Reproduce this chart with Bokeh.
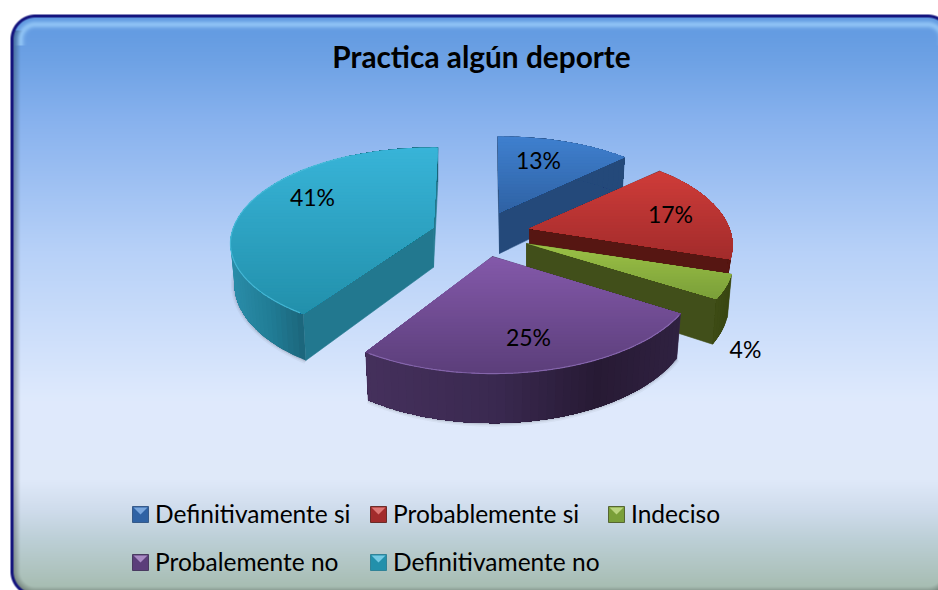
import numpy as np
from bokeh.plotting import figure
from bokeh.models import Range1d
from bokeh.core.properties import value
from bokeh.embed import file_html
from bokeh.resources import INLINE

# ---- data ----
title = "Practica algún deporte"
categories = ["Definitivamente si", "Probablemente si", "Indeciso", "Probalemente no", "Definitivamente no"]
percent = [13, 17, 4, 25, 41]

# ---- style / layout ----
W, H = 938, 590
top_hi = ["#3f80cf", "#cf3c39", "#9cc146", "#8459aa", "#38b4d8"]
top_lo = ["#2f62a4", "#a22b2b", "#7a9f39", "#5b3e7a", "#2290ab"]
radial = ["#24497a", "#561612", "#414f1a", "#3a2850", "#22788f"]
wall_x = [[490, 640], [600, 740], [690, 740], [366, 500, 600, 680], [232, 270, 308]]
wall_c = [["#24497a", "#24497a"], ["#561612", "#561612"], ["#46551c", "#36430f"],
          ["#45305c", "#3a2950", "#271a34", "#2f2140"], ["#2a8ca8", "#217d96", "#1b6479"]]
rim = [None, None, None, "#8f6fb6", "#4cbddb"]
apex = [(499, 212), (529, 228), (526, 243), (492, 256), (433, 227)]
RX, KY, PERSP, DEPTH = 200.0, 94.0, 0.173, 41.0
# per-slice perspective tweaks: width, far half, near half, depth, rotation (deg)
tweak = [(0.97, 0.95, 1.0, 1.0, -0.6), (1.0, 1.0, 1.0, 0.6, 0.0), (1.02, 1.0, 1.0, 1.0, 0.0),
         (1.01, 1.0, 1.03, 1.0, 0.0), (1.0, 1.0, 0.95, 0.97, 1.5)]
label_xy = [(538, 159), (670, 213), (745, 348), (528, 336), (312, 196)]
legend_xy = [(132, 514), (370, 514), (608, 514), (132, 562), (370, 562)]


def Y(sy):
    return 590 - np.asarray(sy, dtype=float)


def hex2rgb(h):
    return np.array([int(h[i:i + 2], 16) for i in (1, 3, 5)], dtype=float)


def rgb2hex(c):
    return "#%02x%02x%02x" % tuple(int(round(v)) for v in np.clip(c, 0, 255))


def mix(stops_x, stops_c, x):
    cs = np.array([hex2rgb(c) for c in stops_c])
    return rgb2hex([np.interp(x, stops_x, cs[:, k]) for k in range(3)])


def project(i, deg, r=1.0, bottom=False):
    ax, ay = apex[i]
    tw, tf, tn, td, rot = tweak[i]
    th = np.radians(deg + rot)
    u, v = r * np.sin(th), r * np.cos(th)
    s = 1.0 / (1.0 + PERSP * v)
    x = RX * tw * u * s
    y = -KY * v * s * (tf if v > 0 else tn)
    if bottom:
        return ax + x * 0.98, ay + y + DEPTH * td * s
    return ax + x, ay + y


def clip_below(poly, y0):
    out = []
    for i in range(len(poly)):
        a, b = poly[i], poly[(i + 1) % len(poly)]
        if a[1] >= y0:
            out.append(a)
        if (a[1] >= y0) != (b[1] >= y0):
            t = (y0 - a[1]) / (b[1] - a[1])
            out.append((a[0] + t * (b[0] - a[0]), y0))
    return out


p = figure(width=W, height=H, x_range=Range1d(0, W), y_range=Range1d(0, H),
           output_backend="svg", toolbar_location=None, min_border=0,
           background_fill_color="white", border_fill_color="white", outline_line_color=None)
p.axis.visible = False
p.grid.visible = False

# ---- chart-area background with rounded frame, bevel and gradient ----
sx = np.arange(W) + 0.5
sy = np.arange(H) + 0.5
XX, YY = np.meshgrid(sx, sy)
L, T, R_, B, RAD = 10.0, 14.0, 952.0, 596.0, 25.0
qx = np.maximum(np.maximum(L + RAD - XX, XX - (R_ - RAD)), 0)
qy = np.maximum(np.maximum(T + RAD - YY, YY - (B - RAD)), 0)
inner = np.minimum(np.minimum(XX - L, R_ - XX), np.minimum(YY - T, B - YY))
d = np.where((qx > 0) & (qy > 0), RAD - np.hypot(qx, qy), inner)
gy = [14, 60, 120, 250, 400, 480, 510, 540, 590]
gc = ["#5e98e0", "#6ea2e5", "#88b2ee", "#b7d1f8", "#dfeafd", "#dfe9f9", "#cfdcec", "#bccfd6", "#a6bcb0"]
gcs = np.array([hex2rgb(c) for c in gc])
rgb = np.stack([np.interp(YY, gy, gcs[:, k]) for k in range(3)], axis=-1)
# top highlight band
hl = np.exp(-((d - 10.0) / 3.5) ** 2) * (YY < 45)
rgb = rgb + (np.array([165, 215, 255]) - rgb) * (hl[..., None] * 0.65)
# dark inner bevel along the left side and bottom
sh = np.clip(1 - (d - 3) / 7.0, 0, 1) * (YY > 30)
rgb = rgb * (1 - 0.3 * sh[..., None])
# navy border
bd = np.clip(3.5 - d, 0, 1)[..., None]
rgb = rgb * (1 - bd) + np.array([20, 20, 125]) * bd
alpha = np.clip(d + 0.5, 0, 1)
rgb = rgb * alpha[..., None] + 255 * (1 - alpha[..., None])
img = np.zeros((H, W), dtype=np.uint32)
view = img.view(np.uint8).reshape((H, W, 4))
view[..., :3] = np.clip(rgb, 0, 255).astype(np.uint8)
view[..., 3] = 255
p.image_rgba(image=[img[::-1]], x=0, y=0, dw=W, dh=H)

# ---- pie slices ----
ends = np.cumsum(percent) / sum(percent) * 360.0
starts = np.concatenate([[0.0], ends[:-1]])
for i in [0, 1, 2, 4, 3]:
    ax, ay = apex[i]
    a0, a1 = starts[i], ends[i]
    angs = np.linspace(a0, a1, max(int((a1 - a0) / 1.0), 4) + 1)

    # soft shadow below the body
    arc_b = [project(i, a, 1.0, True) for a in angs]
    if i in (3, 4):
        for w, al in [(7, 0.05), (4, 0.08), (2, 0.1)]:
            vis = [q for q, a in zip(arc_b, angs) if 90 < a < 300]
            p.line([q[0] for q in vis], Y([q[1] for q in vis]), line_color="#333344",
                   line_width=w, line_alpha=al)

    # radial walls
    for a in (a0, a1):
        tx, ty = project(i, a)
        bx, by = project(i, a, 1.0, True)
        cb = project(i, a, 0.0, True)
        p.patch([ax, tx, bx, cb[0]], Y([ay, ty, by, cb[1]]), fill_color=radial[i],
                line_color=radial[i], line_width=0.6)

    # outer wall: painter's strips, each one reaching to the end of the arc
    xs, ys, cols = [], [], []
    for k in range(0, len(angs) - 1, 2):
        rest = angs[k:]
        tops = [project(i, a) for a in rest]
        bots = [project(i, a, 1.0, True) for a in rest[::-1]]
        xs.append([q[0] for q in tops + bots])
        ys.append(list(Y([q[1] for q in tops + bots])))
        cols.append(mix(wall_x[i], wall_c[i], tops[0][0]))
    p.patches(xs, ys, fill_color=cols, line_color=None)

    # top face: vertical gradient from stacked clips, each reaching to the bottom
    poly = [(ax, ay)] + [project(i, a) for a in angs]
    ymin = min(q[1] for q in poly)
    ymax = max(q[1] for q in poly)
    xs, ys, cols = [], [], []
    for y0 in np.arange(ymin, ymax, 3.0):
        band = clip_below(poly, y0)
        if len(band) < 3:
            continue
        xs.append([q[0] for q in band])
        ys.append(list(Y([q[1] for q in band])))
        cols.append(mix([ymin, ymax], [top_hi[i], top_lo[i]], y0 + 1.5))
    p.patches(xs, ys, fill_color=cols, line_color=None)

    # light rim along the near arc
    if rim[i]:
        vis = [project(i, a) for a in angs if a0 + 1 < a < min(a1, 330)]
        p.line([q[0] for q in vis], Y([q[1] for q in vis]), line_color=rim[i],
               line_width=1.2, line_alpha=0.8)

# ---- value labels ----
p.text([q[0] for q in label_xy], Y([q[1] for q in label_xy]), text=[f"{v}%" for v in percent],
       text_font=value("Lato"), text_font_size=value("23px"), text_color="#000000",
       text_align="center", text_baseline="middle")

# ---- title ----
p.text([481], Y([56]), text=[title], text_font=value("Lato"), text_font_size=value("29.8px"),
       text_font_style="bold", text_color="#000000", text_align="center", text_baseline="middle")

# ---- legend ----
S = 8
for i, (lx, ly) in enumerate(legend_xy):
    cx = lx + S
    p.quad(left=[lx], right=[lx + 2 * S], top=Y([ly - S]), bottom=Y([ly + S]),
           fill_color=top_lo[i], line_color=radial[i], line_width=0.8)
    p.patch([lx + 1, lx + 2 * S - 1, cx], Y([ly - S + 1, ly - S + 1, ly]),
            fill_color=mix([0, 1], [top_hi[i], "#ffffff"], 0.3), line_color=None)
    p.text([lx + 22.5], Y([ly - 1]), text=[categories[i]], text_font=value("Lato"),
           text_font_size=value("24.5px"), text_color="#000000", text_align="left",
           text_baseline="middle")

open("out.html", "w").write(file_html(p, INLINE))
